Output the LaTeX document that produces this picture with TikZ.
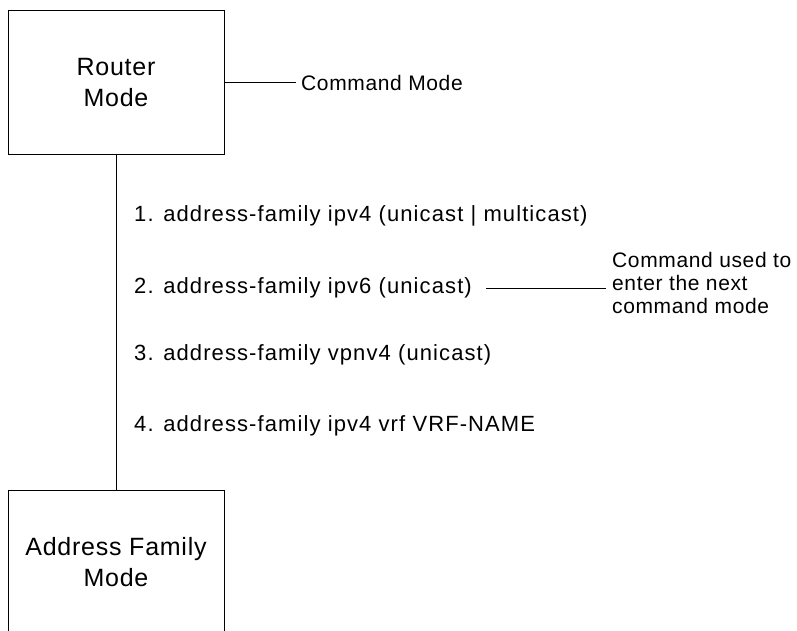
\documentclass[tikz,border=0pt]{standalone}
\usepackage{fontspec}
\setmainfont{Liberation Sans}
\newfontfamily\boxfont[LetterSpace=3]{Liberation Sans}
\newfontfamily\cmdfont[LetterSpace=5]{Liberation Sans}
\newfontfamily\lblfont[LetterSpace=3]{Liberation Sans}
\begin{document}
\begin{tikzpicture}[x=1pt,y=1pt,
  modebox/.style={draw=black, line width=0.9pt, minimum width=216pt, minimum height=144pt,
    align=center, inner sep=0pt, font=\boxfont\fontsize{25}{31}\selectfont},
  cmd/.style={anchor=west, inner sep=0pt, font=\cmdfont\fontsize{22}{26}\selectfont},
  lbl/.style={anchor=west, inner sep=0pt, align=left, font=\lblfont\fontsize{21}{23}\selectfont},
  conn/.style={draw=black, line width=0.9pt}]
\useasboundingbox (0,0) rectangle (797,-631);
\clip (0,0) rectangle (797,-631);
\node[modebox] (rm) at (116,-82.5) {Router\\Mode};
\node[modebox] (afm) at (116,-562.5) {Address Family\\Mode};
\node[lbl] (cm) at (301,-82.5) {Command Mode};
\node[cmd] (c1) at (134,-216) {1. address-family ipv4 (unicast | multicast)};
\node[cmd] (c2) at (134,-288) {2. address-family ipv6 (unicast)};
\node[cmd] (c3) at (134,-355) {3. address-family vpnv4 (unicast)};
\node[cmd] (c4) at (134,-426) {4. address-family ipv4 vrf VRF-NAME};
\node[lbl] (note) at (612,-283) {Command used to\\enter the next\\command mode};
\draw[conn] (rm.south) -- (afm.north);
\draw[conn] (rm.east) -- ([xshift=-5pt]cm.west);
\draw[conn] ([xshift=14pt]c2.east) -- ([xshift=-6pt]c2.east -| note.west);
\end{tikzpicture}
\end{document}
